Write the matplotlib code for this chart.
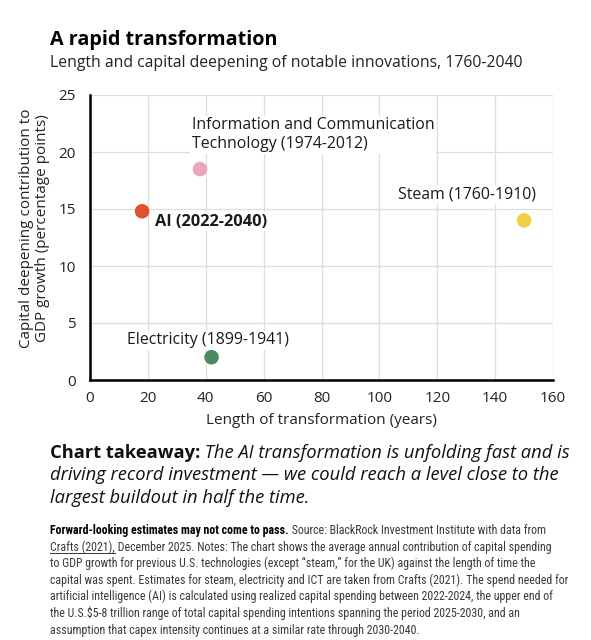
import matplotlib
matplotlib.use("Agg")
import matplotlib.pyplot as plt
from matplotlib.lines import Line2D

plt.rcParams['font.family'] = ['Open Sans', 'DejaVu Sans']

# data
names = ["AI (2022-2040)", "Information and Communication\nTechnology (1974-2012)",
         "Steam (1760-1910)", "Electricity (1899-1941)"]
years = [18, 38, 150, 42]
contrib = [14.8, 18.5, 14.0, 2.0]
colors = ["#e0522c", "#e9a6b8", "#f1cf44", "#4a8a5f"]
label_xy = [(22.5, 13.9), (35.2, 21.5), (106.4, 16.3), (12.8, 3.5)]
xticks = [0, 20, 40, 60, 80, 100, 120, 140, 160]
yticks = [0, 5, 10, 15, 20, 25]

fig = plt.figure(figsize=(5.91, 6.40), dpi=100)
ax = fig.add_axes([90/591, 1-380/640, 463/591, 285/640])

ax.set_xlim(0, 160)
ax.set_ylim(0, 25)
ax.set_xticks(xticks)
ax.set_yticks(yticks)
ax.grid(True, color="#dedede", lw=0.9)
ax.set_axisbelow(True)
for s in ["top", "right"]:
    ax.spines[s].set_visible(False)
for s in ["left", "bottom"]:
    ax.spines[s].set_linewidth(1.8)
    ax.spines[s].set_color("black")
ax.tick_params(length=0, labelsize=11, colors="#222222")
ax.tick_params(axis="y", pad=10)
ax.tick_params(axis="x", pad=8)

ax.scatter(years, contrib, s=110, c=colors, zorder=3, linewidths=0)
for i, name in enumerate(names):
    bold = name.startswith("AI")
    ax.text(label_xy[i][0], label_xy[i][1], name, fontsize=11.8 if bold else 11.4,
            va="center", ha="left", fontweight="bold" if bold else "normal",
            color="#1a1a1a", linespacing=1.25,
            bbox=dict(boxstyle="square,pad=0.1", fc="white", ec="none"), zorder=4)

ax.set_xlabel("Length of transformation (years)", fontsize=11, labelpad=5, color="#222222")
ax.set_ylabel("Capital deepening contribution to\nGDP growth (percentage points)", fontsize=11,
              color="#222222", linespacing=1.1)
ax.yaxis.set_label_coords(-0.086, 0.533)

fig.text(50/591, 1-40/640, "A rapid transformation", fontsize=14.2, fontweight="bold", va="center")
fig.text(50/591, 1-63/640, "Length and capital deepening of notable innovations, 1760-2040",
         fontsize=11.3, va="center", color="#222222")

fig.canvas.draw()
r = fig.canvas.get_renderer()


def run_line(x, y, parts):
    # write pieces one after another on a line, each with its own style
    for txt, kw in parts:
        t = fig.text(x, y, txt, va="baseline", **kw)
        x = t.get_window_extent(r).x1 / fig.bbox.width
    return x


# takeaway
tk = dict(fontsize=13.25, color="#111111")
y0 = 1 - 458/640
run_line(50/591, y0, [("Chart takeaway:", dict(fontweight="bold", **tk)),
                      (" The AI transformation is unfolding fast and is", dict(style="italic", **tk))])
fig.text(50/591, y0 - 22.5/640, "driving record investment \u2014 we could reach a level close to the",
         style="italic", va="baseline", **tk)
fig.text(50/591, y0 - 45/640, "largest buildout in half the time.", style="italic", va="baseline", **tk)

# footnote
fn = dict(fontsize=8.6, color="#3a3a3a", family=["Roboto Condensed", "DejaVu Sans"])
fy = 1 - 534/640
step = 16.6/640
run_line(50/591, fy, [("Forward-looking estimates may not come to pass.",
                       dict(fn, color="#000000", fontweight="bold")),
                      (" Source: BlackRock Investment Institute with data from", dict(fn))])
t = fig.text(50/591, fy - step, "Crafts (2021),", va="baseline", **fn)
bb = t.get_window_extent(r)
fig.add_artist(Line2D([bb.x0/591, bb.x1/591], [fy - step - 2.5/640]*2, lw=0.7, color="#333333"))
fig.text(bb.x1/591, fy - step, " December 2025. Notes: The chart shows the average annual contribution of capital spending",
         va="baseline", **fn)
rest = [
    "to GDP growth for previous U.S. technologies (except \u201csteam,\u201d for the UK) against the length of time the",
    "capital was spent. Estimates for steam, electricity and ICT are taken from Crafts (2021). The spend needed for",
    "artificial intelligence (AI) is calculated using realized capital spending between 2022-2024, the upper end of",
    "the U.S.$5-8 trillion range of total capital spending intentions spanning the period 2025-2030, and an",
    "assumption that capex intensity continues at a similar rate through 2030-2040.",
]
for i, line in enumerate(rest):
    fig.text(50/591, fy - (i + 2) * step, line, va="baseline", **fn)

fig.savefig("out.png", dpi=100)
